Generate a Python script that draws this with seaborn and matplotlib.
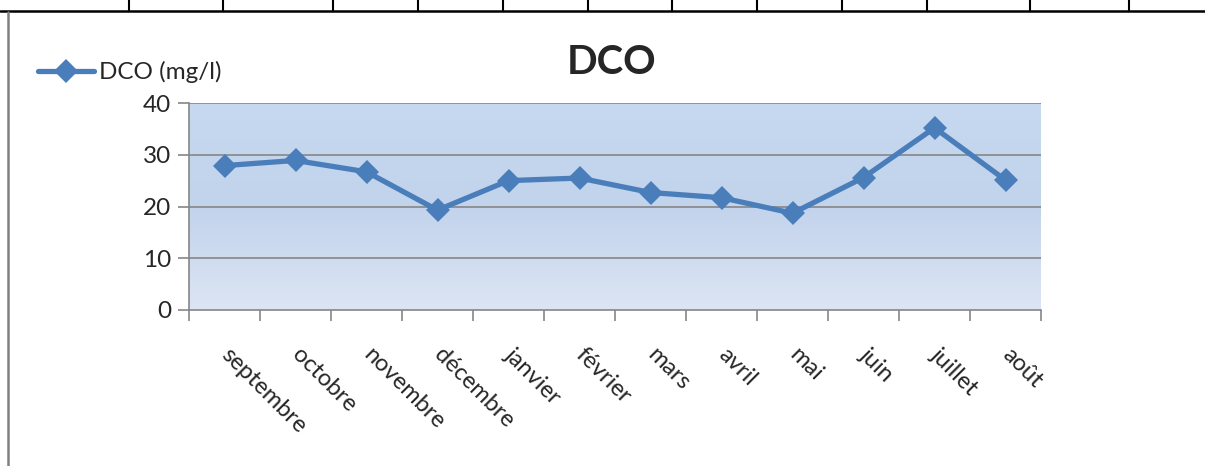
import matplotlib
matplotlib.use('Agg')
import matplotlib.pyplot as plt
import seaborn as sns
import pandas as pd
import numpy as np
from matplotlib.colors import LinearSegmentedColormap
from matplotlib.lines import Line2D

# data
months = ['septembre', 'octobre', 'novembre', 'décembre', 'janvier', 'février',
          'mars', 'avril', 'mai', 'juin', 'juillet', 'août']
dco = [27.9, 28.9, 26.7, 19.3, 25.0, 25.5, 22.7, 21.7, 18.7, 25.6, 35.2, 25.1]
yticks = [0, 10, 20, 30, 40]

df = pd.DataFrame({'mois': months, 'DCO': dco})

sns.set_theme(style='white')
plt.rcParams['font.family'] = ['Lato', 'DejaVu Sans']

fig = plt.figure(figsize=(12.05, 4.66), dpi=100)
ax = fig.add_axes([189 / 1205, 1 - 310 / 466, (1041 - 189) / 1205, (310 - 103) / 466])

# gradient fill of the plot area
cmap = LinearSegmentedColormap.from_list('bg', ['#DCE5F3', '#C2D3EC', '#C6D9F0'])
grad = np.linspace(0, 1, 256).reshape(-1, 1)
ax.imshow(grad, cmap=cmap, extent=[0, 1, 0, 1], transform=ax.transAxes,
          aspect='auto', origin='lower', zorder=0)

sns.lineplot(data=df, x='mois', y='DCO', sort=False, ax=ax, color='#4A7EBB',
             linewidth=3.8, marker='D', markersize=12, markeredgewidth=0,
             label='DCO (mg/l)', zorder=3)

ax.set_xlim(-0.5, 11.5)
ax.set_ylim(0, 40)
ax.set_yticks(yticks)
ax.set_yticklabels([str(v) for v in yticks], fontsize=17.5)
for v in yticks[1:]:
    ax.axhline(v, color='#868686', linewidth=1.2, zorder=1)

ax.set_xticks(range(len(months)))
ax.set_xticklabels(months, fontsize=17, rotation=-45, ha='left', va='center',
                   rotation_mode='anchor')
ax.set_xticks(np.arange(-0.5, 12, 1), minor=True)
ax.tick_params(axis='x', which='major', length=0, pad=30)
ax.tick_params(axis='x', which='minor', length=8, width=1.2, color='#868686',
               direction='out', bottom=True)
ax.tick_params(axis='y', length=8, width=1.2, color='#868686', direction='out',
               left=True, pad=5)
ax.set_xlabel('')
ax.set_ylabel('')

for s in ['top', 'right']:
    ax.spines[s].set_visible(False)
for s in ['left', 'bottom']:
    ax.spines[s].set_color('#868686')
    ax.spines[s].set_linewidth(1.2)

ax.legend_.remove()
h, l = ax.get_legend_handles_labels()
fig.legend(h, l, loc='center left', bbox_to_anchor=(38 / 1205, 1 - 72 / 466),
           frameon=False, borderpad=0, borderaxespad=0, fontsize=17.5,
           handlelength=2.3, handletextpad=0.2)

fig.text(612 / 1205, 1 - 62 / 466, 'DCO', fontsize=29, fontweight='bold',
         ha='center', va='center')

# page borders around the chart
fig.add_artist(Line2D([0, 1], [1 - 11 / 466] * 2, color='black', linewidth=1.8,
                      transform=fig.transFigure))
for x in [129, 223, 333, 418, 503, 588, 672, 757, 842, 927, 1030, 1129]:
    fig.add_artist(Line2D([x / 1205] * 2, [1, 1 - 11 / 466], color='black',
                          linewidth=1.5, transform=fig.transFigure))
fig.add_artist(Line2D([8 / 1205] * 2, [0, 1 - 12 / 466], color='#808080',
                      linewidth=1.8, transform=fig.transFigure))

fig.savefig('out.png', dpi=100)
